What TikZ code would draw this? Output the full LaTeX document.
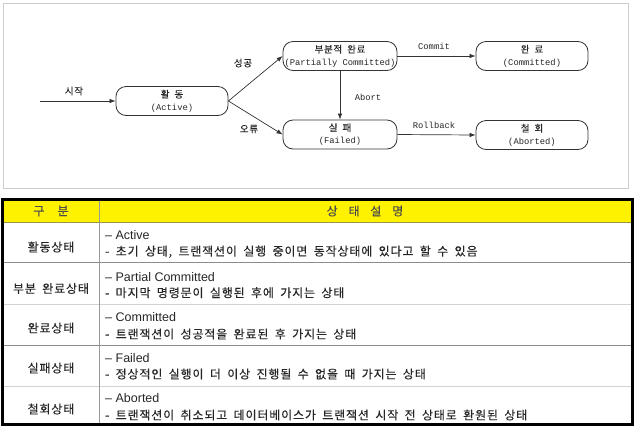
\documentclass[tikz,border=0pt]{standalone}
\usepackage{fontspec}
\setmainfont{Liberation Sans}
\newfontfamily\krfont[LetterSpace=7,WordSpace=1.8,FakeBold=0.25]{Noto Sans CJK KR}
\newfontfamily\monofont{Liberation Mono}
\usetikzlibrary{arrows.meta,positioning}
\tikzstyle{state} = [draw=black!80, line width=0.8pt, rounded corners=10pt,
minimum width=112pt, minimum height=29pt, inner sep=0pt, align=center,
font=\fontsize{9.5}{12.5}\krfont, text=black!85]
\tikzstyle{arrow} = [->, line width=0.7pt, draw=black!80]
\tikzstyle{krlabel} = [font=\fontsize{9.5}{11}\krfont, text=black!85]
\tikzstyle{enlabel} = [font=\fontsize{8.8}{11}\monofont, text=black!85]
\tikzstyle{encell} = [anchor=west, inner sep=0pt, font=\fontsize{12.5}{14}\selectfont, text=black!85]
\tikzstyle{krcell} = [inner sep=0pt, font=\fontsize{12}{14}\krfont, text=black!85]
\tikzset{>={Latex[length=6pt,width=4.5pt]}}
\newcommand{\entxt}[1]{{\fontsize{8.8}{10}\monofont #1}}

\begin{document}
\begin{tikzpicture}[x=1pt, y=-1pt]
            \useasboundingbox (0,0) rectangle (640,432);
            % state diagram
            \draw[gray!40, line width=1pt] (3.5,3.5) rectangle (628,188);
            \coordinate (start) at (40,101);
            \node[state] (active) at (172,101) {활 동\\\entxt{(Active)}};
            \node[state, minimum width=114pt] (partial) at (340,56) {부분적 완료\\\entxt{(Partially Committed)}};
            \node[state, minimum width=114pt] (failed) at (340,134.5) {실 패\\\entxt{(Failed)}};
            \node[state] (committed) at (532,56) {완 료\\\entxt{(Committed)}};
            \node[state] (aborted) at (532,135) {철 회\\\entxt{(Aborted)}};
            \draw[arrow] (start) -- (active.west);
            \draw[arrow] (active.east) -- (partial.west);
            \draw[arrow] (active.east) -- (failed.west);
            \draw[arrow] (partial.south) -- (failed.north);
            \draw[arrow] (partial.east) -- (committed.west);
            \draw[arrow] (failed.east) -- (aborted.west);
            \node[krlabel] (lstart) at (74,91) {시작};
            \node[krlabel] (lsuccess) at (243,63) {성공};
            \node[krlabel] (lerror) at (249,129) {오류};
            \node[enlabel] (labort) at (368,97) {Abort};
            \node[enlabel] (lcommit) at (434,46) {Commit};
            \node[enlabel] (lrollback) at (434,125) {Rollback};
            % table
            \fill[yellow] (2.8,199.7) rectangle (632.5,222.5);
            \draw[yellow!55!black, line width=0.8pt] (2.8,222.5) -- (632.5,222.5);
            \draw[gray!90, line width=0.8pt] (2.8,262) -- (632.5,262);
            \draw[gray!35, line width=1pt] (2.8,304) -- (632.5,304);
            \draw[gray!90, line width=0.8pt] (2.8,345) -- (632.5,345);
            \draw[gray!35, line width=1pt] (2.8,386) -- (632.5,386);
            \draw[gray!80, line width=0.8pt] (99,199.7) -- (99,424.5);
            \draw[black, line width=3.2pt] (2.8,199.7) rectangle (632.5,424.5);
            \node[krcell, text=black!70] (hdrkind) at (51,211) {구\hspace{1.1em}분};
            \node[krcell, text=black!70] (hdrdesc) at (365,211) {상\hspace{0.9em}태\hspace{0.9em}설\hspace{0.9em}명};
            \node[krcell] (kactive) at (51,247) {활동상태};
            \node[krcell] (kpartial) at (51,288.5) {부분 완료상태};
            \node[krcell] (kcommitted) at (51,328) {완료상태};
            \node[krcell] (kfailed) at (51,368) {실패상태};
            \node[krcell] (kaborted) at (51,409) {철회상태};
            \node[encell] (dactive) at (105,235) {-- Active};
            \node[krcell, anchor=west] (dactivekr) at (105,251.7) {- 초기 상태, 트랜잭션이 실행 중이면 동작상태에 있다고 할 수 있음};
            \node[encell] (dpartial) at (105,276.7) {-- Partial Committed};
            \node[krcell, anchor=west] (dpartialkr) at (105,292.7) {- 마지막 명령문이 실행된 후에 가지는 상태};
            \node[encell] (dcommitted) at (105,317.3) {-- Committed};
            \node[krcell, anchor=west] (dcommittedkr) at (105,334) {- 트랜잭션이 성공적을 완료된 후 가지는 상태};
            \node[encell] (dfailed) at (105,357.7) {-- Failed};
            \node[krcell, anchor=west] (dfailedkr) at (105,374) {- 정상적인 실행이 더 이상 진행될 수 없을 때 가지는 상태};
            \node[encell] (daborted) at (105,398.3) {-- Aborted};
            \node[krcell, anchor=west] (dabortedkr) at (105,415) {- 트랜잭션이 취소되고 데이터베이스가 트랜잭션 시작 전 상태로 환원된 상태};
\end{tikzpicture}
\end{document}
